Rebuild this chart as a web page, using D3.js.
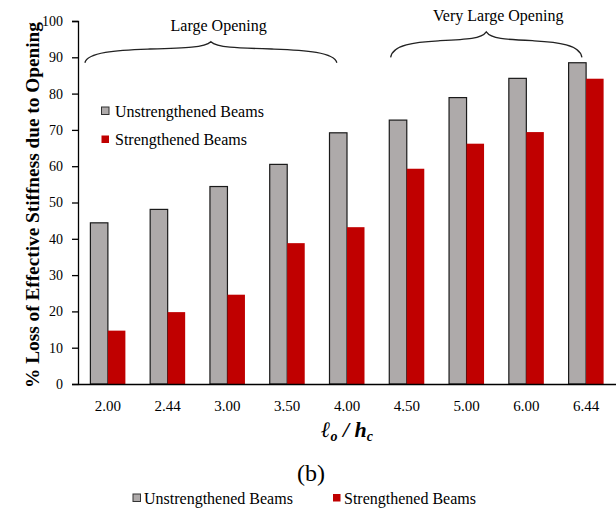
<!DOCTYPE html>
<html>
<head>
<meta charset="utf-8">
<script src="https://cdn.jsdelivr.net/npm/d3@7"></script>
<style>
  html, body { margin: 0; padding: 0; background: #fff; }
  svg { display: block; font-family: "Liberation Serif", "Times New Roman", serif; }
</style>
</head>
<body>
<svg id="chart" width="616" height="511"></svg>
<script>
// Ratio of opening length to beam depth
const categories = ["2.00", "2.44", "3.00", "3.50", "4.00", "4.50", "5.00", "6.00", "6.44"];
// % loss of effective stiffness due to the opening
const unstrengthened = [44.4, 48.1, 54.4, 60.5, 69.2, 72.7, 78.9, 84.2, 88.5];
const strengthened   = [14.7, 19.8, 24.6, 38.8, 43.2, 59.3, 66.2, 69.4, 84.1];
const seriesNames = ["Unstrengthened Beams", "Strengthened Beams"];
const yTicks = [0, 10, 20, 30, 40, 50, 60, 70, 80, 90, 100];
// Grouping braces above the bars: span in category index, end/cusp/label levels in % units
const groupLabels = ["Large Opening", "Very Large Opening"];
const groupStart  = [-0.385, 4.73];
const groupEnd    = [3.83, 7.93];
const groupEndLvl = [88.5, 90.0];
const groupTipLvl = [94.3, 97.0];
const groupTextLvl = [97.3, 100.1];
const groupTextShift = [0.13, 0.2];

const colors = { "Unstrengthened Beams": "#AEAAAA", "Strengthened Beams": "#C00000" };

const svg = d3.select("#chart");
const margin = { left: 78, right: 0, top: 21, bottom: 127 };
const W = 616, H = 511;

const x = d3.scaleBand().domain(categories).range([margin.left, W - margin.right]).padding(0);
const xs = d3.scaleBand().domain(seriesNames).range([0, x.bandwidth()]).paddingInner(0).paddingOuter(0.708);
const y = d3.scaleLinear().domain([0, 100]).range([H - margin.bottom, margin.top]);
// category index -> pixel centre
const xi = d3.scaleLinear().domain([0, 1]).range([x(categories[0]) + x.bandwidth() / 2, x(categories[1]) + x.bandwidth() / 2]);

const rows = categories.map((c, i) => ({ cat: c, values: [unstrengthened[i], strengthened[i]] }));

// Bars
const g = svg.append("g");
const groups = g.selectAll("g.cat").data(rows).join("g")
  .attr("class", "cat")
  .attr("transform", d => `translate(${x(d.cat)},0)`);
groups.selectAll("rect").data(d => d.values.map((v, k) => ({ s: seriesNames[k], v })))
  .join("rect")
  .attr("x", d => xs(d.s))
  .attr("width", xs.bandwidth())
  .attr("y", d => y(d.v))
  .attr("height", d => y(0) - y(d.v))
  .attr("fill", d => colors[d.s])
  .attr("stroke", d => d.s === seriesNames[0] ? "#1a1a1a" : "none")
  .attr("stroke-width", 1.2);

// Y axis
const yAxis = d3.axisLeft(y).tickValues(yTicks).tickSize(6).tickPadding(9).tickFormat(d3.format("d"));
const ya = svg.append("g").attr("transform", `translate(${margin.left},0)`).call(yAxis)
  .attr("font-family", null);
ya.select(".domain").attr("stroke", "#000").attr("stroke-width", 1.3);
ya.selectAll(".tick line").attr("stroke", "#000").attr("stroke-width", 1.3);
ya.selectAll("text").attr("font-size", 14).attr("fill", "#000");

// X axis
const xAxis = d3.axisBottom(x).tickSize(0).tickPadding(16);
const xa = svg.append("g").attr("transform", `translate(0,${y(0)})`).call(xAxis)
  .attr("font-family", null);
xa.select(".domain").attr("stroke", "#000").attr("stroke-width", 1.3);
xa.selectAll("text").attr("font-size", 15).attr("fill", "#000");

// Y axis title, sized to span the plot height
const yTitle = svg.append("text")
  .attr("transform", `translate(39,205) rotate(-90)`)
  .attr("text-anchor", "middle")
  .attr("font-size", 19)
  .attr("font-weight", "bold")
  .text("% Loss of Effective Stiffness due to Opening");
const len = yTitle.node().getComputedTextLength();
if (len > 0) yTitle.attr("font-size", 19 * 366 / len);

// X axis title: l_o / h_c
const xt = svg.append("text")
  .attr("x", (margin.left + W) / 2)
  .attr("y", 437)
  .attr("text-anchor", "middle")
  .attr("font-size", 22)
  .attr("font-weight", "bold")
  .attr("font-style", "italic");
xt.append("tspan").text("\u2113");
xt.append("tspan").attr("font-size", 14).attr("dy", 4).text("o");
xt.append("tspan").attr("dy", -4).text(" / ");
xt.append("tspan").text("h");
xt.append("tspan").attr("font-size", 14).attr("dy", 4).text("c");

// Panel label
svg.append("text")
  .attr("x", 311).attr("y", 481)
  .attr("text-anchor", "middle")
  .attr("font-size", 24)
  .text("(b)");

// Braces with group labels
function bracePath(x0, x1, yEnd, yTip) {
  const xm = (x0 + x1) / 2, a = xm - x0, h = yEnd - yTip;
  const p = d3.path();
  p.moveTo(x0, yEnd);
  p.bezierCurveTo(x0 + 0.02 * a, yEnd - 0.5 * h, x0 + 0.25 * a, yEnd - 0.6 * h, x0 + 0.5 * a, yEnd - 0.65 * h);
  p.bezierCurveTo(x0 + 0.8 * a, yEnd - 0.7 * h, xm - 0.05 * a, yEnd - 0.72 * h, xm, yTip);
  p.bezierCurveTo(xm + 0.05 * a, yEnd - 0.72 * h, x1 - 0.8 * a, yEnd - 0.7 * h, x1 - 0.5 * a, yEnd - 0.65 * h);
  p.bezierCurveTo(x1 - 0.25 * a, yEnd - 0.6 * h, x1 - 0.02 * a, yEnd - 0.5 * h, x1, yEnd);
  return p.toString();
}
groupLabels.forEach((lab, i) => {
  const x0 = xi(groupStart[i]), x1 = xi(groupEnd[i]);
  svg.append("path")
    .attr("d", bracePath(x0, x1, y(groupEndLvl[i]), y(groupTipLvl[i])))
    .attr("fill", "none").attr("stroke", "#222").attr("stroke-width", 1.3);
  svg.append("text")
    .attr("x", xi((groupStart[i] + groupEnd[i]) / 2 + groupTextShift[i]))
    .attr("y", y(groupTextLvl[i]))
    .attr("text-anchor", "middle")
    .attr("font-size", 16)
    .text(lab);
});

// Legend inside plot
const legIn = svg.append("g");
seriesNames.forEach((s, k) => {
  const cy = 111 + k * 28.5;
  legIn.append("rect").attr("x", 101.5).attr("y", cy - 4).attr("width", 7.5).attr("height", 7.5)
    .attr("fill", colors[s]).attr("stroke", k === 0 ? "#333" : "none").attr("stroke-width", 1);
  legIn.append("text").attr("x", 115).attr("y", cy + 5.5).attr("font-size", 16).text(s);
});

// Legend below chart
const legX = [133, 333];
seriesNames.forEach((s, k) => {
  svg.append("rect").attr("x", legX[k]).attr("y", 494).attr("width", 7.5).attr("height", 7.5)
    .attr("fill", colors[s]).attr("stroke", k === 0 ? "#333" : "none").attr("stroke-width", 1);
  svg.append("text").attr("x", legX[k] + 11).attr("y", 504).attr("font-size", 16).text(s);
});
</script>
</body>
</html>
